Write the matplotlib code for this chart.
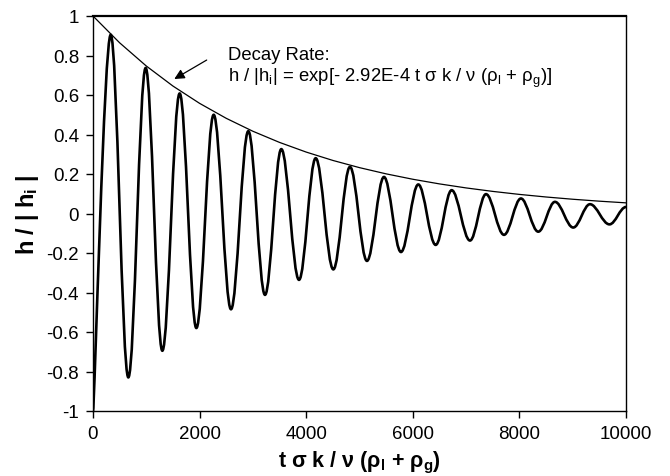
import matplotlib
matplotlib.use("Agg")
import matplotlib.pyplot as plt
from matplotlib.path import Path
from matplotlib.patches import PathPatch

plt.rcParams['font.family'] = ['Liberation Sans', 'DejaVu Sans']
plt.rcParams['mathtext.fontset'] = 'custom'
plt.rcParams['mathtext.rm'] = 'Liberation Sans'
plt.rcParams['mathtext.it'] = 'Liberation Sans:italic'
plt.rcParams['mathtext.bf'] = 'Liberation Sans:bold'

# Oscillation extrema (time, normalized height)
ext_t = [0, 332, 663, 988, 1301, 1626, 1939, 2264, 2589, 2914, 3227, 3533,
         3865, 4178, 4509, 4821, 5140, 5459, 5778, 6103, 6429, 6729, 7073,
         7373, 7711, 8029, 8354, 8667, 9010, 9324, 9690, 10000]
ext_v = [-1.0, 0.905, -0.83, 0.737, -0.695, 0.608, -0.58, 0.50, -0.485, 0.417,
         -0.412, 0.326, -0.336, 0.28, -0.283, 0.236, -0.24, 0.185, -0.195,
         0.147, -0.159, 0.118, -0.137, 0.098, -0.108, 0.076, -0.092, 0.059,
         -0.071, 0.047, -0.055, 0.033]

# Decay envelope h/|hi| = exp(-2.92E-4 t)
env_t = [0, 500, 1000, 1500, 2000, 2500, 3000, 3500, 4000, 4500, 5000, 5500,
         6000, 6500, 7000, 7500, 8000, 8500, 9000, 9500, 10000]
env_v = [1.000, 0.8642, 0.7468, 0.6453, 0.5577, 0.4819, 0.4164, 0.3599,
         0.3110, 0.2687, 0.2322, 0.2007, 0.1734, 0.1499, 0.1295, 0.1119,
         0.0967, 0.0836, 0.0722, 0.0624, 0.0539]

x_ticks = [0, 2000, 4000, 6000, 8000, 10000]
y_ticks = [-1, -0.8, -0.6, -0.4, -0.2, 0, 0.2, 0.4, 0.6, 0.8, 1]
y_ticklabels = ['-1', '-0.8', '-0.6', '-0.4', '-0.2', '0', '0.2', '0.4', '0.6', '0.8', '1']

fig = plt.figure(figsize=(6.7, 4.77), dpi=100)
ax = fig.add_axes([93/670, 1 - 412/477, (626-93)/670, (412-17)/477])

# smooth wave through extrema (horizontal tangents at extrema)
verts = [(ext_t[0], ext_v[0])]
codes = [Path.MOVETO]
k = 0.364
for i in range(len(ext_t) - 1):
    t0, v0 = ext_t[i], ext_v[i]
    t1, v1 = ext_t[i+1], ext_v[i+1]
    dt = t1 - t0
    k0 = 0.08 if i == 0 else k
    verts += [(t0 + k0*dt, v0), (t1 - k*dt, v1), (t1, v1)]
    codes += [Path.CURVE4]*3
wave = PathPatch(Path(verts, codes), fill=False, edgecolor='black', lw=1.9,
                 joinstyle='round', capstyle='round')
ax.add_patch(wave)

ax.plot(env_t, env_v, color='black', lw=0.9)

ax.annotate('', xy=(1525, 0.681), xytext=(2133, 0.777),
            arrowprops=dict(arrowstyle='-|>', color='black', lw=0.9,
                            mutation_scale=15, shrinkA=0, shrinkB=0))
ax.text(2540, 0.805, 'Decay Rate:', fontsize=13.3, va='center', ha='left')
ax.text(2540, 0.69,
        r'h / |h$_\mathregular{i}$| = exp[- 2.92E-4 t σ k / ν (ρ$_\mathregular{l}$ + ρ$_\mathregular{g}$)]',
        fontsize=13.3, va='center', ha='left')

ax.set_xlim(0, 10000)
ax.set_ylim(-1, 1)
ax.set_xticks(x_ticks)
ax.set_xticklabels([str(v) for v in x_ticks])
ax.set_yticks(y_ticks)
ax.set_yticklabels(y_ticklabels)
ax.tick_params(direction='out', length=5, width=1, labelsize=13.5, colors='black')
ax.tick_params(axis='x', pad=5)
ax.tick_params(axis='y', pad=5)

for s in ['left', 'bottom', 'right']:
    ax.spines[s].set_linewidth(1.0)
ax.spines['top'].set_linewidth(1.6)

ax.set_xlabel(r't σ k / ν (ρ$_\mathregular{l}$ + ρ$_\mathregular{g}$)',
              fontsize=15.5, fontweight='bold', labelpad=5)
ax.set_ylabel(r'h / | h$_\mathregular{i}$ |', fontsize=17, fontweight='bold', labelpad=4)

fig.savefig('out.png', dpi=100)
